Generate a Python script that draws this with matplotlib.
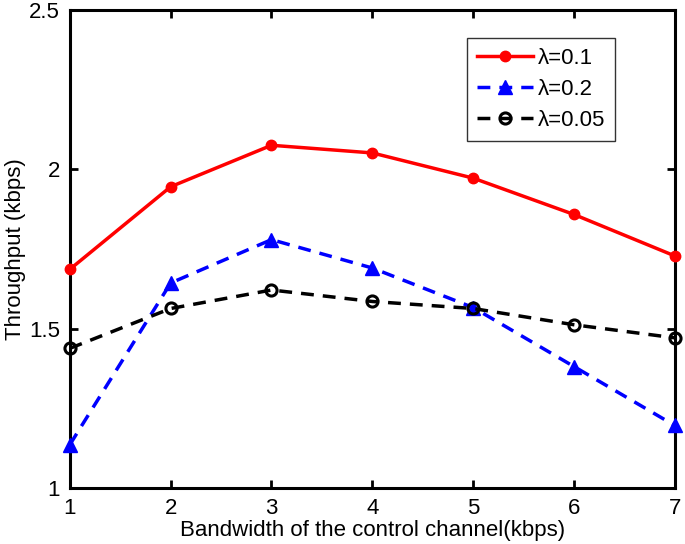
import matplotlib.pyplot as plt

# Data
bandwidth = [1, 2, 3, 4, 5, 6, 7]
thr_01 = [1.686, 1.945, 2.075, 2.051, 1.972, 1.858, 1.728]
thr_02 = [1.136, 1.643, 1.779, 1.690, 1.566, 1.381, 1.196]
thr_005 = [1.438, 1.563, 1.621, 1.585, 1.563, 1.512, 1.471]


def plot():
    plt.rcParams['font.family'] = ['Liberation Sans', 'DejaVu Sans']
    fig = plt.figure(figsize=(6.85, 5.44), dpi=100)
    ax = fig.add_axes([0.102, 0.103, 0.883, 0.879])

    ax.plot(bandwidth, thr_01, '-', color='red', lw=2.5, marker='o',
            ms=7.5, label='λ=0.1', clip_on=False, zorder=5)
    ax.plot(bandwidth, thr_02, '--', color='blue', lw=2.5, marker='^',
            ms=10, dashes=(3.7, 2.6), label='λ=0.2', clip_on=False, zorder=4)
    ax.plot(bandwidth, thr_005, '--', color='black', lw=2.5, marker='o',
            ms=8, mfc='none', mew=2.2, dashes=(3.7, 2.6), label='λ=0.05',
            clip_on=False, zorder=4)

    ax.set_xlim(1, 7)
    ax.set_ylim(1, 2.5)
    ax.set_xticks(bandwidth)
    ax.set_yticks([1, 1.5, 2, 2.5])
    ax.set_yticklabels(['1', '1.5', '2', '2.5'])
    ax.tick_params(direction='in', top=True, right=True, labelsize=16,
                   width=2, length=6, pad=7)
    for s in ax.spines.values():
        s.set_linewidth(2.2)

    ax.set_xlabel('Bandwidth of the control channel(kbps)', fontsize=16, labelpad=1)
    ax.set_ylabel('Throughput (kbps)', fontsize=16, labelpad=2)

    leg = ax.legend(loc='upper right', bbox_to_anchor=(0.902, 0.942),
                    borderaxespad=0, fontsize=16, fancybox=False,
                    edgecolor='black', handlelength=2.5, borderpad=0.45,
                    labelspacing=0.45, handletextpad=0.25)
    leg.get_frame().set_linewidth(1)

    fig.savefig('out.png', dpi=100)


if __name__ == "__main__":
    plot()
